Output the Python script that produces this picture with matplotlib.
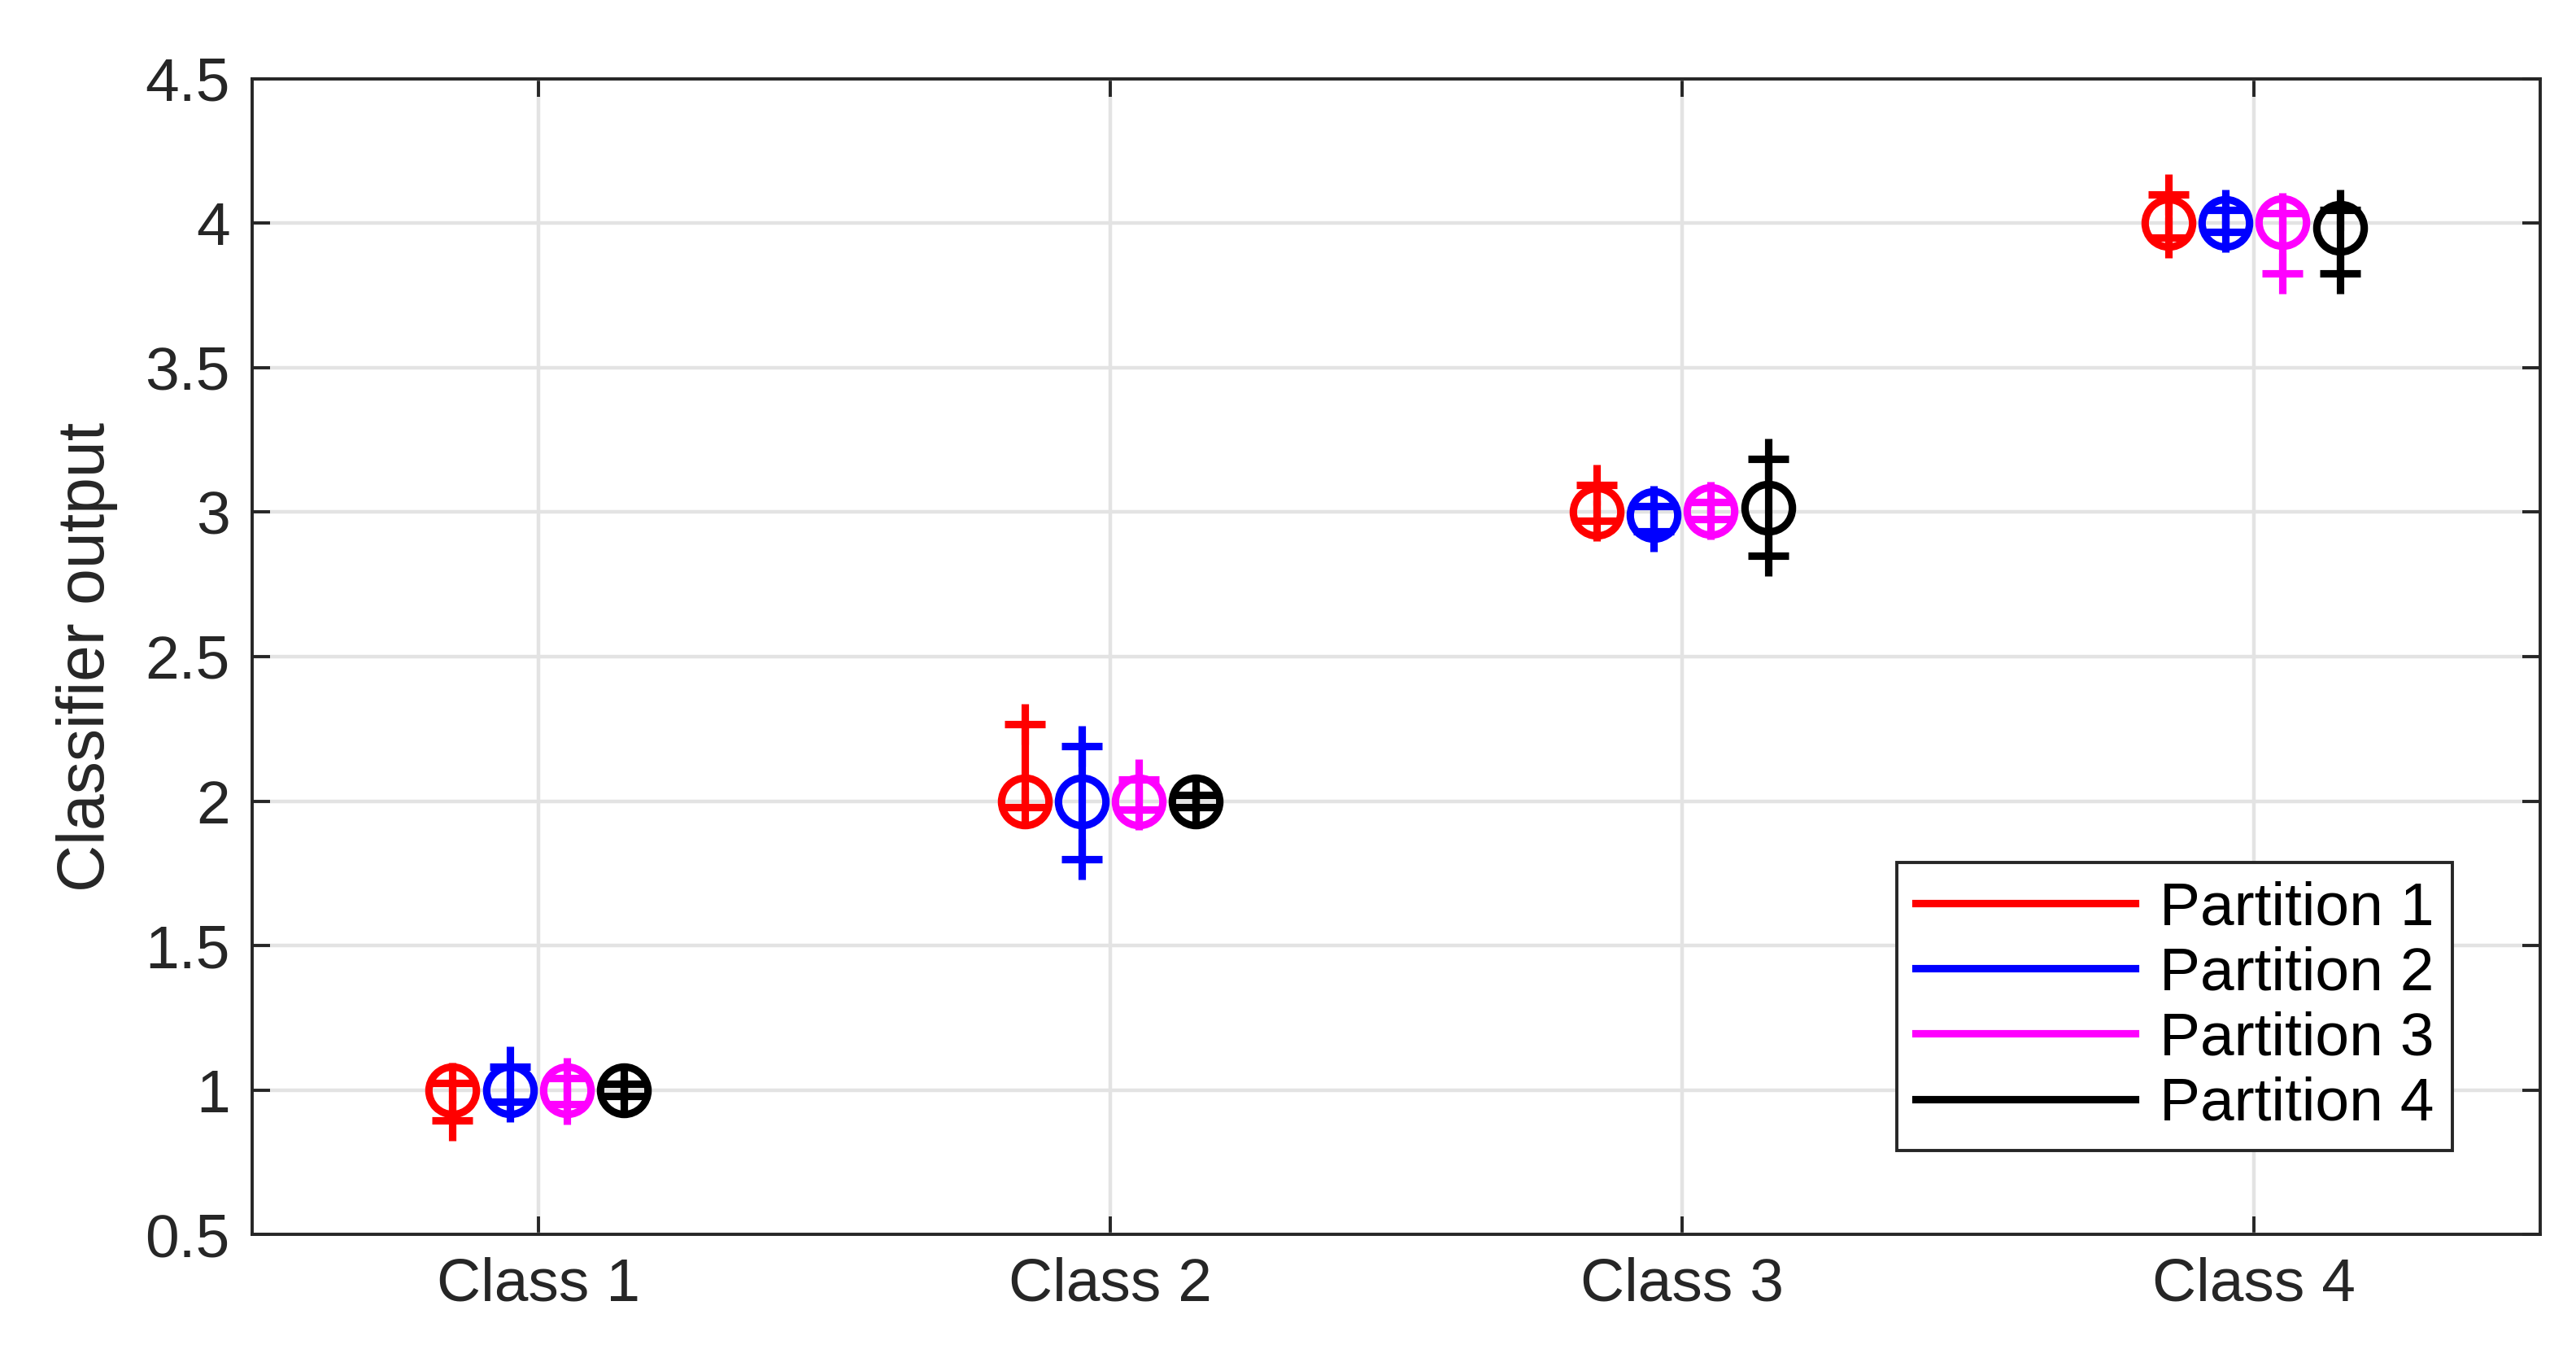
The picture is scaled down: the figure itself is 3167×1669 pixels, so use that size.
import numpy as np
import matplotlib.pyplot as plt

plt.rcParams['font.family'] = ['Liberation Sans', 'DejaVu Sans']

classes = ["Class 1", "Class 2", "Class 3", "Class 4"]
partitions = ["Partition 1", "Partition 2", "Partition 3", "Partition 4"]
colors = ["#ff0000", "#0000ff", "#ff00ff", "#000000"]

# mean output per class, one list per partition
means = [
    [1.00, 2.00, 3.00, 4.00],
    [1.00, 2.00, 2.99, 4.00],
    [1.00, 2.00, 3.005, 4.005],
    [1.00, 2.00, 3.015, 3.985],
]
err_low = [
    [0.105, 0.02, 0.03, 0.05],
    [0.04, 0.20, 0.055, 0.03],
    [0.05, 0.03, 0.03, 0.18],
    [0.02, 0.02, 0.165, 0.16],
]
err_high = [
    [0.025, 0.265, 0.095, 0.10],
    [0.08, 0.19, 0.03, 0.047],
    [0.04, 0.075, 0.03, 0.03],
    [0.02, 0.02, 0.17, 0.06],
]
offsets = [-0.15, -0.05, 0.05, 0.15]

fig = plt.figure(figsize=(3167 / 200, 1669 / 200), dpi=200)
ax = fig.add_axes([0.098, 0.091, 0.888, 0.851])

x = np.arange(1, 5)
for i in range(4):
    xi = x + offsets[i]
    m = np.array(means[i])
    lo = np.array(err_low[i])
    hi = np.array(err_high[i])
    ax.errorbar(xi, m, yerr=[lo, hi], fmt='o', color=colors[i], mfc='none',
                ms=21, mew=3.3, elinewidth=3.3, capsize=0, label=partitions[i], zorder=3)
    ax.plot(xi, m - lo, '+', color=colors[i], ms=18, mew=3.3, zorder=3)
    ax.plot(xi, m + hi, '+', color=colors[i], ms=18, mew=3.3, zorder=3)

ax.set_xlim(0.5, 4.5)
ax.set_ylim(0.5, 4.5)
ax.set_xticks(x)
ax.set_xticklabels(classes)
ax.set_yticks(np.arange(0.5, 4.51, 0.5))
ax.set_yticklabels(["0.5", "1", "1.5", "2", "2.5", "3", "3.5", "4", "4.5"])
ax.tick_params(labelsize=27, colors='#262626', direction='in', top=True, right=True,
               length=8, width=1.4, pad=10)
ax.grid(True, color='#e3e3e3', linewidth=1.6)
ax.set_axisbelow(True)
for s in ax.spines.values():
    s.set_color('#262626')
    s.set_linewidth(1.4)
ax.set_ylabel("Classifier output", fontsize=29, color='#262626', labelpad=12)

handles = [plt.Line2D([], [], color=c, lw=3.3) for c in colors]
leg = ax.legend(handles, partitions, loc='lower right', bbox_to_anchor=(0.975, 0.046),
                fontsize=27, handlelength=3.6, fancybox=False, framealpha=1,
                edgecolor='#262626', borderpad=0.3, labelspacing=0.15, handletextpad=0.4)
leg.get_frame().set_linewidth(1.4)

fig.savefig("out.png", dpi=200)
